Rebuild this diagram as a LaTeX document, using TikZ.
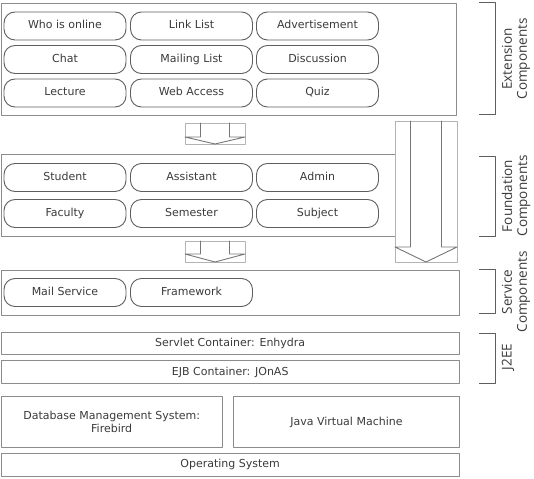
\documentclass[tikz,border=0pt]{standalone}
\usepackage{fontspec}
\setmainfont{DejaVu Sans}
\newfontfamily\grpfont{Open Sans}
\definecolor{boxgray}{HTML}{8C8C8C}
\definecolor{compgray}{HTML}{5E5E5E}
\definecolor{txtgray}{HTML}{3A3A3A}
\definecolor{framegray}{HTML}{B4B4B4}
\begin{document}
\begin{tikzpicture}[x=1pt, y=-1pt, line join=round, line cap=round,
		font=\fontsize{11}{13}\selectfont,
		layer/.style={draw=boxgray, line width=0.9pt, inner sep=0pt, anchor=north west, text=txtgray, align=center},
		comp/.style={draw=compgray, line width=0.9pt, rounded corners=11pt, minimum width=122pt, minimum height=28pt, inner sep=0pt, text height=8.2pt, text depth=2.2pt, text=txtgray},
		blockarrow/.style={draw=compgray!85, line width=0.9pt},
		arrowframe/.style={draw=framegray, line width=0.6pt},
		bracket/.style={draw=compgray, line width=1pt, line cap=butt},
		grplabel/.style={rotate=90, align=center, text=txtgray, font=\grpfont\fontsize{13.5}{15}\selectfont}]
	\useasboundingbox (0,0) rectangle (534,478);

	% layers
	\node[layer, minimum width=455.5pt, minimum height=112pt] (ext) at (0.5,3) {};
	\node[layer, minimum width=394.5pt, minimum height=82pt] (found) at (0.5,154) {};
	\node[layer, minimum width=458.5pt, minimum height=45pt] (serv) at (0.5,270) {};
	\node[layer, minimum width=458.5pt, minimum height=22pt] (servlet) at (0.5,332) {Servlet Container: Enhydra};
	\node[layer, minimum width=458.5pt, minimum height=23pt] (ejb) at (0.5,360) {EJB Container: JOnAS};
	\node[layer, minimum width=221.5pt, minimum height=51pt] (dbms) at (0.5,396) {Database Management System:\\Firebird};
	\node[layer, minimum width=226pt, minimum height=51pt] (jvm) at (233,396) {Java Virtual Machine};
	\node[layer, minimum width=458.5pt, minimum height=23pt] (os) at (0.5,453) {Operating System};

	% components
	\foreach \n/\x/\y/\t in {who/65/26/Who is online, link/191.5/26/Link List, adv/317.5/26/Advertisement,
			chat/65/59.5/Chat, mlist/191.5/59.5/Mailing List, disc/317.5/59.5/Discussion,
			lect/65/93/Lecture, web/191.5/93/Web Access, quiz/317.5/93/Quiz,
			stud/65/177.5/Student, asst/191.5/177.5/Assistant, admin/317.5/177.5/Admin,
			fac/65/213.5/Faculty, sem/191.5/213.5/Semester, subj/317.5/213.5/Subject,
			msrv/65/292.5/Mail Service, frame/191.5/292.5/Framework}
		\node[comp] (\n) at (\x,\y) {\t};

	% block arrows
	\foreach \l/\r/\t/\s/\b in {185/245/123/137/144, 185/245/241/254/262, 395/457/121/247/262} {
		\draw[arrowframe] (\l,\t) rectangle (\r,\b);
		\draw[blockarrow] ({\l+15.5},\t) -- ({\l+15.5},\s) -- (\l,\s) -- ({(\l+\r)/2},\b)
			-- (\r,\s) -- ({\r-15.5},\s) -- ({\r-15.5},\t);
	}

	% groups
	\foreach \t/\b in {3/115, 157/236, 269/313, 333/383}
		\draw[bracket] (479,\t) -- (495,\t) -- (495,\b) -- (479,\b);
	\node[grplabel] (extlab) at (516,59) {Extension\\Components};
	\node[grplabel] (foundlab) at (516,196) {Foundation\\Components};
	\node[grplabel] (servlab) at (516,292) {Service\\Components};
	\node[grplabel] (jeelab) at (508,357) {J2EE};
\end{tikzpicture}
\end{document}
